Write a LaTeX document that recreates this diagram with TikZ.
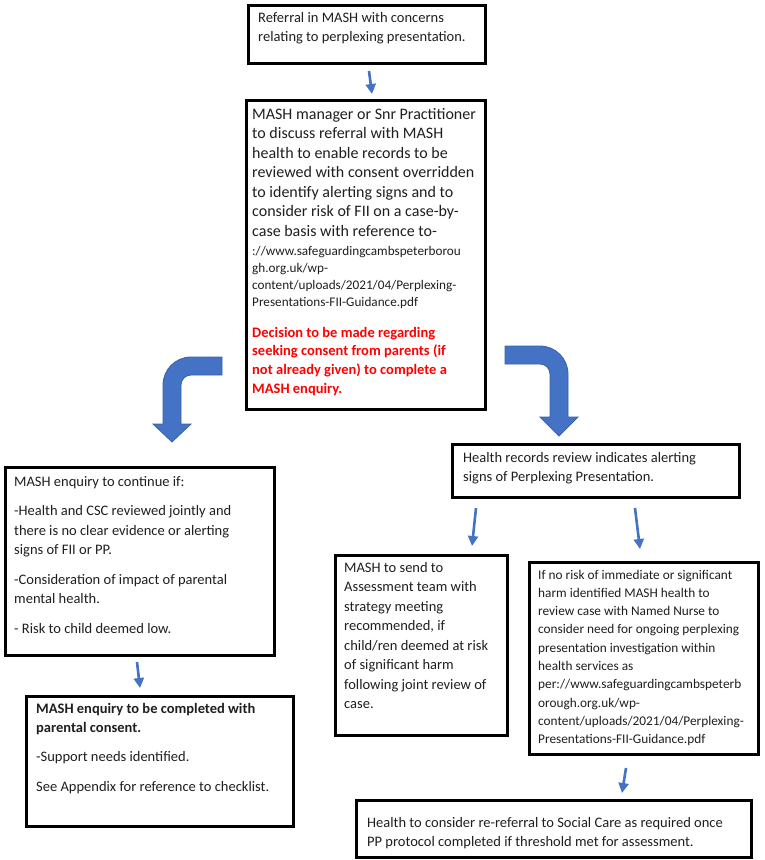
\documentclass[tikz,border=0pt]{standalone}
\usepackage{fontspec}
\setmainfont{Carlito}
\usetikzlibrary{arrows.meta}
\definecolor{arrowblue}{HTML}{4472C4}
\definecolor{arrowedge}{HTML}{3A62AA}
\definecolor{txtred}{HTML}{FF0000}
\newcommand{\tb}[2]{\parbox[t]{#1}{\raggedright #2}}
\tikzset{
  box/.style={draw=black, line width=3pt, fill=white, inner sep=0pt, anchor=north west},
  txt/.style={inner sep=0pt, anchor=base west, text=black!88, font=\fontsize{14.5}{19.5}\selectfont},
  midtxt/.style={txt, font=\fontsize{16}{19.5}\selectfont},
  urltxt/.style={txt, font=\fontsize{13.2}{17.3}\selectfont},
  redtxt/.style={txt, text=txtred, font=\bfseries\fontsize{14.5}{18.7}\selectfont},
  smalltxt/.style={txt, font=\fontsize{13.3}{18.3}\selectfont},
  sarrow/.style={draw=arrowblue, line width=2.6pt, -{Triangle[width=10pt,length=10pt]}},
  blockarrow/.style={fill=arrowblue, draw=arrowedge, line width=0.8pt, line join=miter}
}
\begin{document}
\begin{tikzpicture}[x=1pt,y=-1pt]
\useasboundingbox (0,0) rectangle (764,860);

% boxes
\node[box, minimum width=237pt, minimum height=58pt] (top) at (246.5,3.5) {};
\node[box, minimum width=239pt, minimum height=309pt] (mid) at (244.5,98.5) {};
\node[box, minimum width=287pt, minimum height=53pt] (hr) at (450.5,442.5) {};
\node[box, minimum width=269pt, minimum height=188pt] (left) at (3.5,465.5) {};
\node[box, minimum width=267pt, minimum height=130pt] (bl) at (24.5,694.5) {};
\node[box, minimum width=172pt, minimum height=180pt] (send) at (333.5,553.5) {};
\node[box, minimum width=229pt, minimum height=192pt] (norisk) at (527.5,560.5) {};
\node[box, minimum width=395pt, minimum height=57pt] (bottom) at (354.5,798.5) {};

% texts
\node[txt] (topT) at (258,22) {\tb{230pt}{Referral in MASH with concerns\\relating to perplexing presentation.}};

\node[midtxt] (midA) at (252,119) {\tb{240pt}{MASH manager or Snr Practitioner\\to discuss referral with MASH\\health to enable records to be\\reviewed with consent overridden\\to identify alerting signs and to\\consider risk of FII on a case-by-\\case basis with reference to-}};
\node[urltxt] (midB) at (252,255) {\tb{240pt}{://www.safeguardingcambspeterborou\\gh.org.uk/wp-\\content/uploads/2021/04/Perplexing-\\Presentations-FII-Guidance.pdf}};
\node[redtxt] (midC) at (252,337) {\tb{240pt}{Decision to be made regarding\\seeking consent from parents (if\\not already given) to complete a\\MASH enquiry.}};

\node[txt] (hrT) at (463,462) {\tb{280pt}{Health records review indicates alerting\\signs of Perplexing Presentation.}};

\node[txt] (leftT) at (14,486) {\tb{260pt}{MASH enquiry to continue if:\\[10pt]-Health and CSC reviewed jointly and\\there is no clear evidence or alerting\\signs of FII or PP.\\[10pt]-Consideration of impact of parental\\mental health.\\[10pt]- Risk to child deemed low.}};

\node[txt] (blT) at (36,713) {\tb{260pt}{\textbf{MASH enquiry to be completed with}\\\textbf{parental consent.}\\[9.5pt]-Support needs identified.\\[10.5pt]See Appendix for reference to checklist.}};

\node[txt] (sendT) at (344,572) {\tb{170pt}{MASH to send to\\Assessment team with\\strategy meeting\\recommended, if\\child/ren deemed at risk\\of significant harm\\following joint review of\\case.}};

\node[smalltxt] (noriskT) at (538,579) {\tb{230pt}{If no risk of immediate or significant\\harm identified MASH health to\\review case with Named Nurse to\\consider need for ongoing perplexing\\presentation investigation within\\health services as\\per://www.safeguardingcambspeterb\\orough.org.uk/wp-\\content/uploads/2021/04/Perplexing-\\Presentations-FII-Guidance.pdf}};

\node[txt] (bottomT) at (367,827) {\tb{390pt}{Health to consider re-referral to Social Care as required once\\PP protocol completed if threshold met for assessment.}};

% small arrows
\coordinate (a1s) at (369,71);  \coordinate (a1e) at (372,94);
\coordinate (a2s) at (137,662); \coordinate (a2e) at (140,688);
\coordinate (a3s) at (476,508); \coordinate (a3e) at (472,546);
\coordinate (a4s) at (635,508); \coordinate (a4e) at (640,549);
\coordinate (a5s) at (626,768); \coordinate (a5e) at (622,793);
\draw[sarrow] (a1s) -- (a1e);
\draw[sarrow] (a2s) -- (a2e);
\draw[sarrow] (a3s) -- (a3e);
\draw[sarrow] (a4s) -- (a4e);
\draw[sarrow] (a5s) -- (a5e);

% block arrows
\path[blockarrow] (222,357) -- (191,357) .. controls (175.5,357) and (163,369.5) .. (163,385)
  -- (163,424) -- (153,424) -- (172,442) -- (191,424) -- (181,424) -- (181,385)
  .. controls (181,379.5) and (185.5,375) .. (191,375) -- (222,375) -- cycle;
\path[blockarrow] (505,346) -- (540,346) .. controls (555.5,346) and (568,358.5) .. (568,374)
  -- (568,417) -- (578,417) -- (559,436) -- (540,417) -- (550,417) -- (550,374)
  .. controls (550,368.5) and (545.5,364) .. (540,364) -- (505,364) -- cycle;
\end{tikzpicture}
\end{document}
